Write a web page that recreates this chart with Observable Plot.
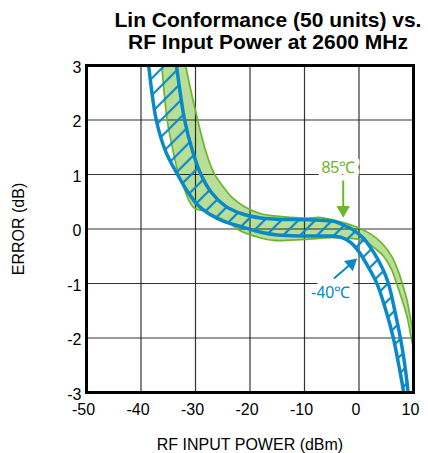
<!DOCTYPE html>
<html><head><meta charset="utf-8">
<script src="https://cdn.jsdelivr.net/npm/d3@7"></script>
<script src="https://cdn.jsdelivr.net/npm/@observablehq/plot@0.6"></script>
<style>
body{margin:0;background:#fff;font-family:"Liberation Sans",Arial,sans-serif;}
#wrap{position:relative;width:428px;height:453px;overflow:hidden;background:#fff}
#title{position:absolute;left:108px;top:9px;width:320px;text-align:center;font-weight:bold;font-size:21px;line-height:22px;color:#000;white-space:nowrap;z-index:2}
#chart{position:absolute;left:0;top:0}
#chart svg text{font-family:"Liberation Sans",Arial,sans-serif !important}
</style></head>
<body>
<div id="wrap">
<div id="title">Lin Conformance (50 units) vs.<br>RF Input Power at 2600 MHz</div>
<div id="chart"></div>
</div>
<script>
// ---- data ----
const xTicks = [-50, -40, -30, -20, -10, 0, 10];
const yTicks = [-3, -2, -1, 0, 1, 2, 3];

// -40°C band (blue, hatched)
const blueUpX = [-33.8, -33.5, -32.0, -30.6, -29.0, -27.0, -24.5, -21.5, -18, -15, -10, -7, -4.6, -3.0, -1.0, 0.9, 2.7, 4.3, 5.4, 6.7, 7.9, 8.9, 9.1];
const blueUpY = [3.2, 3.0, 2.0, 1.45, 1.0, 0.66, 0.42, 0.28, 0.2, 0.18, 0.17, 0.16, 0.14, 0.08, -0.02, -0.18, -0.43, -0.72, -1.0, -1.56, -2.17, -2.9, -3.2];
const blueLoX = [-38.8, -38.6, -37.2, -35.5, -33.3, -31.4, -29.5, -27.4, -24.8, -21.5, -18, -15, -10, -5, -3.4, -1.5, 0, 1.6, 3.2, 4.8, 6.3, 7.3, 8.2, 8.4];
const blueLoY = [3.2, 3.0, 2.0, 1.43, 1.0, 0.68, 0.43, 0.27, 0.14, 0.04, -0.06, -0.11, -0.13, -0.13, -0.15, -0.25, -0.42, -0.68, -0.98, -1.45, -2.0, -2.5, -3.0, -3.2];

// 85°C band (green, filled)
const greenUpX = [-32.1, -31.8, -29.6, -28.1, -26.6, -25.1, -23.3, -21, -18, -15.6, -10, -7, -3.4, 0, 2.1, 4.3, 6.1, 7.3, 8.1, 8.8, 9.3, 10.2, 10.5];
const greenUpY = [3.2, 3.0, 2.0, 1.42, 1.02, 0.8, 0.58, 0.41, 0.28, 0.24, 0.2, 0.21, 0.13, 0.02, -0.09, -0.27, -0.52, -0.8, -1.05, -1.3, -1.56, -2.05, -2.3];
const greenLoX = [-36.4, -36.2, -35.2, -34.0, -33.1, -32.0, -31.1, -30.2, -28.5, -26, -24, -21.8, -18.5, -15.6, -10, -5, -2, 0, 1.5, 3, 4.5, 6.0, 6.9, 7.9, 8.8, 9.6, 10.2, 10.5];
const greenLoY = [3.2, 3.0, 2.0, 1.38, 1.0, 0.72, 0.5, 0.38, 0.33, 0.22, 0.12, -0.03, -0.15, -0.21, -0.19, -0.16, -0.17, -0.19, -0.25, -0.36, -0.5, -0.75, -1.0, -1.3, -1.6, -2.0, -2.3, -2.5];

// annotations
const annText = ["85\u2103", "-40\u2103"];
const annX = [-3.8, -5.2];
const annY = [1.12, -1.17];
const arrX1 = [-2.9, -4.6];
const arrY1 = [0.89, -0.91];
const arrX2 = [-2.9, -1.41];
const arrY2 = [0.35, -0.633];
const arrRot = [180, 49];

const BLUE = "#0a89c6", GREEN = "#6cb52f", GREENFILL = "#b9de98";
const FONT = '"Liberation Sans", Arial, sans-serif';

const edge = (xs, ys) => xs.map((x, i) => ({x, y: ys[i]}));
const blueUp = edge(blueUpX, blueUpY), blueLo = edge(blueLoX, blueLoY);
const greenUp = edge(greenUpX, greenUpY), greenLo = edge(greenLoX, greenLoY);
const bluePoly = [...blueUp, ...blueLo.slice().reverse()];
const greenPoly = [...greenUp, ...greenLo.slice().reverse()];
const ann = annText.map((t, i) => ({t, x: annX[i], y: annY[i], x1: arrX1[i], y1: arrY1[i], x2: arrX2[i], y2: arrY2[i], r: arrRot[i], c: i === 0 ? GREEN : BLUE}));

const chart = Plot.plot({
  width: 428, height: 453,
  marginTop: 65, marginBottom: 61, marginLeft: 86, marginRight: 15,
  style: {fontFamily: FONT, fontSize: "16px", color: "#000", background: "transparent"},
  x: {domain: [-50, 10]},
  y: {domain: [-3, 3]},
  marks: [
    Plot.line(greenPoly, {x: "x", y: "y", fill: GREENFILL, stroke: "none", curve: "catmull-rom", clip: true}),
    Plot.gridX(xTicks, {stroke: "#111", strokeOpacity: 0.85, strokeWidth: 1.2}),
    Plot.gridY(yTicks, {stroke: "#111", strokeOpacity: 0.85, strokeWidth: 1.2}),
    Plot.line(greenUp, {x: "x", y: "y", stroke: GREEN, strokeWidth: 1.7, curve: "catmull-rom", clip: true}),
    Plot.line(greenLo, {x: "x", y: "y", stroke: GREEN, strokeWidth: 1.7, curve: "catmull-rom", clip: true}),
    Plot.line(bluePoly, {x: "x", y: "y", fill: "url(#hatch)", stroke: "none", curve: "catmull-rom", clip: true}),
    Plot.line(blueUp, {x: "x", y: "y", stroke: BLUE, strokeWidth: 3.5, curve: "catmull-rom", clip: true}),
    Plot.line(blueLo, {x: "x", y: "y", stroke: BLUE, strokeWidth: 3.5, curve: "catmull-rom", clip: true}),
    Plot.frame({stroke: "#000", strokeWidth: 3}),
    Plot.axisX({ticks: xTicks, tickSize: 0, tickPadding: 11, tickFormat: d => String(d), dx: -3,
      label: "RF INPUT POWER (dBm)", labelAnchor: "center", labelArrow: "none", labelOffset: 57, fontSize: 16, fontFamily: FONT}),
    Plot.axisY({ticks: yTicks, tickSize: 0, tickPadding: 5, tickFormat: d => String(d), dy: 2,
      label: "ERROR (dB)", labelAnchor: "center", labelArrow: "none", labelOffset: 74, fontSize: 16, fontFamily: FONT}),
    Plot.link(ann, {x1: "x1", y1: "y1", x2: "x2", y2: "y2", stroke: "c", strokeWidth: 2}),
    Plot.dot(ann, {x: "x2", y: "y2", symbol: "triangle", r: 5, fill: "c", stroke: "none", rotate: "r"}),
    Plot.text(ann, {x: "x", y: "y", text: "t", fill: "c", fontSize: 16, fontFamily: FONT, stroke: "white", strokeWidth: 10})
  ]
});

const defs = d3.select(chart).insert("defs", ":first-child");
const pat = defs.append("pattern").attr("id", "hatch").attr("patternUnits", "userSpaceOnUse")
  .attr("width", 12).attr("height", 12).attr("patternTransform", "rotate(45)");
pat.append("line").attr("x1", 6).attr("y1", -1).attr("x2", 6).attr("y2", 13)
  .attr("stroke", BLUE).attr("stroke-width", 2.2);

document.getElementById("chart").appendChild(chart);
</script>
</body></html>
